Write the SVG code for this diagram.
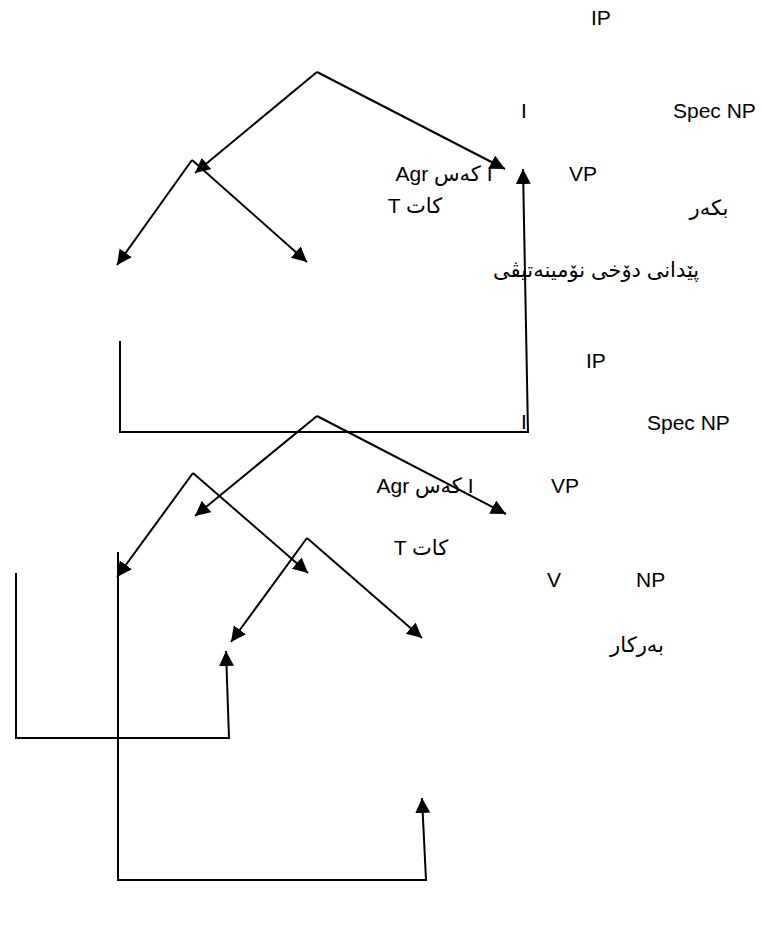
<svg xmlns="http://www.w3.org/2000/svg" width="762" height="937" viewBox="0 0 762 937">
<style>
text{font-family:"Liberation Sans","DejaVu Sans",Arial,sans-serif;font-size:21px;fill:#000}
.c{text-anchor:middle}
.e{fill:none;stroke:#000;stroke-width:2;marker-end:url(#ah)}
.p{fill:none;stroke:#000;stroke-width:2}
</style>
<defs>
<marker id="ah" markerUnits="userSpaceOnUse" markerWidth="16" markerHeight="16" refX="15" refY="7.5" orient="auto">
<path d="M0,0 L15,7.5 L0,15 z" fill="#000"/>
</marker>
</defs>
<rect width="762" height="937" fill="#fff"/>
<g id="connectors">
<line class="e" x1="317" y1="72" x2="195" y2="173"/>
<line class="e" x1="317" y1="72" x2="505" y2="169"/>
<line class="e" x1="192" y1="160" x2="117" y2="265"/>
<line class="e" x1="192" y1="160" x2="307" y2="262"/>
<polyline class="e" points="120,341 120,432 528,432 523,169"/>
<line class="e" x1="317" y1="416" x2="195" y2="516"/>
<line class="e" x1="317" y1="416" x2="506" y2="514"/>
<line class="e" x1="193" y1="473" x2="117" y2="577"/>
<line class="e" x1="193" y1="473" x2="308" y2="573"/>
<line class="e" x1="307" y1="538" x2="231" y2="642"/>
<line class="e" x1="307" y1="538" x2="422" y2="638"/>
<polyline class="e" points="16,573 16,738 229,738 226,651"/>
<polyline class="e" points="118,552 118,880 426,880 422,798"/>
</g>
<g id="node-ip1"><text x="591" y="25">IP</text></g>
<g id="node-i1"><text x="521" y="118">I</text></g>
<g id="node-specnp1"><text x="673" y="118">Spec NP</text></g>
<g id="node-agr1"><text class="c" x="444" y="181">Agr کەس I</text></g>
<g id="node-vp1"><text x="569" y="181">VP</text></g>
<g id="node-t1"><text class="c" x="415" y="213">T کات</text></g>
<g id="node-bker"><text class="c" x="709" y="215">بکەر</text></g>
<g id="node-case"><text class="c" x="596" y="277">پێدانی دۆخی نۆمینەتیڤی</text></g>
<g id="node-ip2"><text x="586" y="368">IP</text></g>
<g id="node-i2"><text x="521" y="429">I</text></g>
<g id="node-specnp2"><text x="647" y="430">Spec NP</text></g>
<g id="node-agr2"><text class="c" x="425" y="493">Agr کەس I</text></g>
<g id="node-vp2"><text x="551" y="493">VP</text></g>
<g id="node-t2"><text class="c" x="421" y="555">T کات</text></g>
<g id="node-v"><text x="547" y="587">V</text></g>
<g id="node-np"><text x="636" y="587">NP</text></g>
<g id="node-object"><text class="c" x="637" y="652">بەرکار</text></g>
</svg>
